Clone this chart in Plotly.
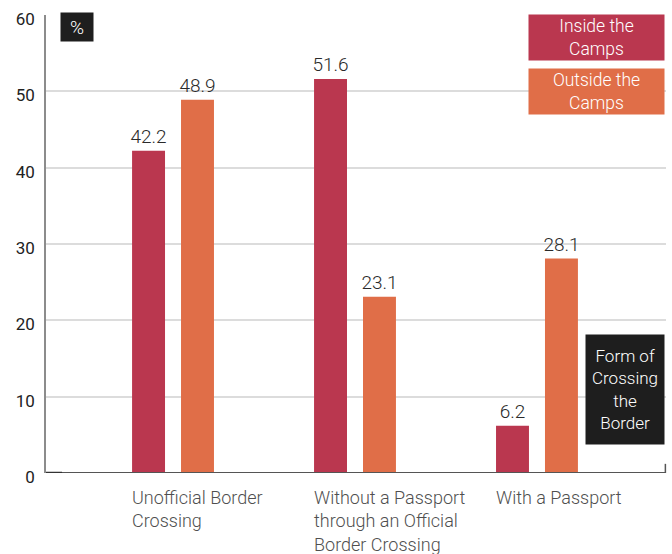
import plotly.graph_objects as go

categories = ["Unofficial Border<br>Crossing",
              "Without a Passport<br>through an Official<br>Border Crossing",
              "With a Passport"]
inside = [42.2, 51.6, 6.2]
outside = [48.9, 23.1, 28.1]
series_names = ["Inside the<br>Camps", "Outside the<br>Camps"]
y_ticks = [0, 10, 20, 30, 40, 50, 60]

RED = "#BA374F"
ORANGE = "#E06E48"
FONT = "Roboto"

xs = list(range(len(categories)))

fig = go.Figure()
for vals, col, name in [(inside, RED, series_names[0]), (outside, ORANGE, series_names[1])]:
    fig.add_trace(go.Bar(
        x=xs, y=vals, name=name, marker=dict(color=col, line=dict(width=0)),
        text=[f"{v:.1f}" for v in vals], textposition="outside", constraintext="none",
        textfont=dict(family=FONT, size=19, color="#2a2a2a", weight=300),
        cliponaxis=False, showlegend=False,
    ))

fig.update_layout(
    width=672, height=554,
    margin=dict(l=46, r=6, t=15, b=81),
    paper_bgcolor="white", plot_bgcolor="white",
    barmode="group", bargap=0.462, bargroupgap=0.327,
    font=dict(family=FONT),
    xaxis=dict(range=[-0.698, 2.709], showticklabels=False, showgrid=False,
               zeroline=False, showline=False, fixedrange=True, automargin=False),
    yaxis=dict(range=[0, 60], tickvals=y_ticks, showgrid=True, gridcolor="#dcdcdc",
               gridwidth=1.5, zeroline=False, showline=True, linecolor="#8c8c8c",
               linewidth=1.5, ticks="", ticklabelstandoff=6, ticklabelshift=4,
               automargin=False, fixedrange=True,
               tickfont=dict(family=FONT, size=17, color="#222222")),
)

# bottom axis line and right end tick
fig.add_shape(type="line", xref="paper", yref="y", x0=0, x1=1, y0=0, y1=0,
              line=dict(color="#555555", width=2))
fig.add_shape(type="line", xref="paper", yref="y", x0=0, x1=0.026, y0=0, y1=0,
              line=dict(color="#333333", width=2.5))
fig.add_shape(type="line", xref="paper", yref="y", x0=0.999, x1=0.999, y0=0, y1=1.2,
              line=dict(color="#555555", width=1.5))

# category labels (left aligned under red bars)
for i, cat in enumerate(categories):
    fig.add_annotation(x=i - 0.225, y=0, xref="x", yref="paper", text=cat,
                       xanchor="left", yanchor="top", align="left", showarrow=False,
                       yshift=-12, xshift=-2,
                       font=dict(family=FONT, size=18, color="#4f4f4f", weight=300))

# % box
fig.add_annotation(x=(60 - 46) / 620, y=(473 - 12) / 458, xref="paper", yref="paper",
                   text="%", showarrow=False, xanchor="left", yanchor="top",
                   width=32, height=28, borderpad=0, bgcolor="#1e1e1e",
                   font=dict(family=FONT, size=19, color="white", weight=300))

# legend boxes
for j, (name, col) in enumerate([(series_names[0], RED), (series_names[1], ORANGE)]):
    top = 14 + j * 54
    fig.add_annotation(x=(665 - 46) / 620, y=(473 - top) / 458, xref="paper", yref="paper",
                       text=name, showarrow=False, xanchor="right", yanchor="top",
                       width=135, height=45, borderpad=0, bgcolor=col,
                       font=dict(family=FONT, size=17.5, color="white", weight=300))

# axis title box
fig.add_annotation(x=(665 - 46) / 620, y=(473 - 334) / 458, xref="paper", yref="paper",
                   text="Form of<br>Crossing<br>the<br>Border", showarrow=False,
                   xanchor="right", yanchor="top", width=78, height=109, borderpad=0,
                   bgcolor="#1e1e1e", font=dict(family=FONT, size=17, color="white", weight=300))

fig.write_html("out.html", config={"displayModeBar": False},
               post_script="document.body.style.margin='0';document.body.style.overflow='hidden';")
